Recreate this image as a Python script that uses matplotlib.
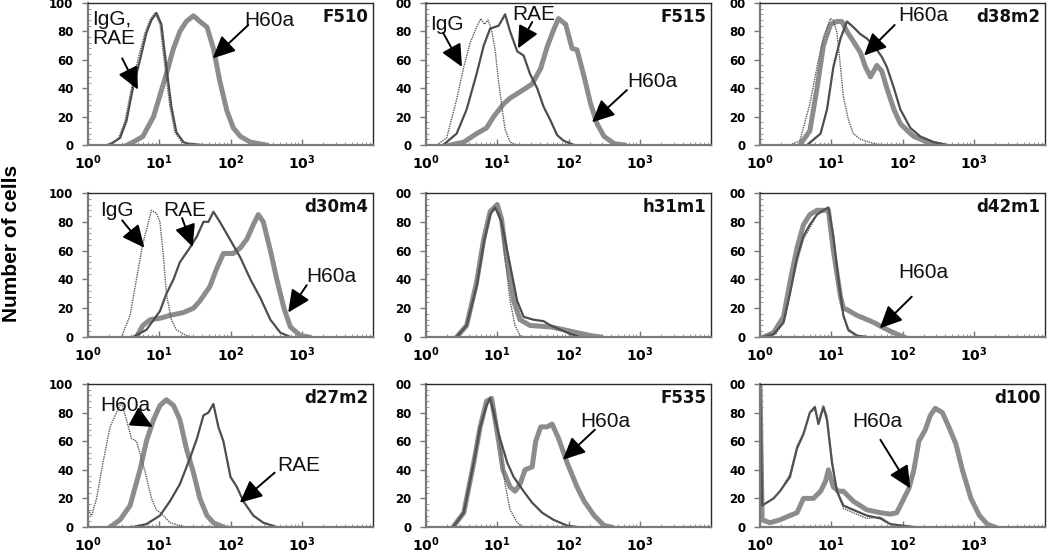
import matplotlib
matplotlib.use("Agg")
import matplotlib.pyplot as plt
from matplotlib.ticker import MultipleLocator, LogLocator, FixedLocator, NullFormatter

# ---------------- data (log10 fluorescence, % of max cells) ----------------
f510_igg = [(0.25,0),(0.35,2),(0.43,5),(0.52,17),(0.61,40),(0.70,60),(0.80,79),(0.87,88),(0.94,93),(1.01,85),(1.08,55),(1.15,27),(1.22,9),(1.32,2),(1.55,0)]
f510_rae = [(0.30,0),(0.45,5),(0.54,17),(0.63,40),(0.73,60),(0.82,79),(0.89,88),(0.96,93),(1.03,85),(1.10,55),(1.17,27),(1.24,9),(1.34,2),(1.40,1),(1.60,0)]
f510_h60a = [(0.55,0),(0.63,2),(0.77,6),(0.92,20),(1.01,35),(1.10,50),(1.20,68),(1.29,80),(1.38,87),(1.48,91),(1.57,87),(1.67,83),(1.76,68),(1.85,45),(1.95,24),(2.04,12),(2.14,6),(2.28,2),(2.50,0)]

f515_igg = [(0.15,0),(0.29,5),(0.43,32),(0.53,55),(0.62,72),(0.71,83),(0.77,89),(0.82,85),(0.87,88),(0.92,81),(0.97,67),(1.02,44),(1.07,25),(1.11,11),(1.18,2),(1.28,0)]
f515_rae = [(0.24,0),(0.43,8),(0.57,25),(0.71,50),(0.81,70),(0.90,82),(1.02,84),(1.11,92),(1.18,80),(1.28,66),(1.37,63),(1.46,50),(1.56,40),(1.65,27),(1.75,17),(1.84,7),(1.93,3),(2.08,0)]
f515_h60a = [(0.34,0),(0.53,2),(0.71,8),(0.85,12),(0.95,20),(1.09,29),(1.18,33),(1.37,39),(1.49,43),(1.61,54),(1.70,69),(1.79,81),(1.86,89),(1.96,85),(2.05,68),(2.12,67),(2.22,48),(2.31,29),(2.40,15),(2.50,6),(2.64,1),(2.78,0)]

d38m2_igg = [(0.42,0),(0.56,3),(0.70,29),(0.80,55),(0.89,76),(0.99,89),(1.03,88),(1.08,79),(1.13,55),(1.17,34),(1.24,18),(1.31,8),(1.41,4),(1.60,1),(1.74,0)]
d38m2_rae = [(0.66,0),(0.85,8),(0.94,25),(1.03,55),(1.13,75),(1.22,87),(1.31,83),(1.41,78),(1.50,75),(1.60,70),(1.71,62),(1.78,55),(1.88,40),(1.97,25),(2.11,12),(2.25,6),(2.44,2),(2.63,0)]
d38m2_h60a = [(0.56,0),(0.70,10),(0.80,40),(0.89,70),(0.99,85),(1.08,87),(1.15,87),(1.22,80),(1.31,73),(1.41,65),(1.48,55),(1.55,48),(1.64,56),(1.71,52),(1.78,40),(1.88,25),(1.97,15),(2.07,10),(2.16,6),(2.35,2),(2.54,0)]

d30m4_igg = [(0.47,0),(0.59,15),(0.68,40),(0.77,65),(0.85,80),(0.89,88),(0.96,86),(1.01,80),(1.06,55),(1.10,30),(1.17,12),(1.24,5),(1.38,1),(1.48,0)]
d30m4_rae = [(0.63,0),(0.82,5),(1.01,18),(1.10,30),(1.20,40),(1.29,52),(1.43,62),(1.53,70),(1.62,80),(1.69,80),(1.76,87),(1.85,80),(1.99,68),(2.14,55),(2.28,40),(2.42,27),(2.56,12),(2.70,3),(2.84,0)]
d30m4_h60a = [(0.68,0),(0.77,8),(0.87,12),(1.01,13),(1.15,15),(1.34,17),(1.48,20),(1.57,25),(1.71,35),(1.81,48),(1.90,58),(2.04,58),(2.14,62),(2.23,68),(2.32,78),(2.39,85),(2.46,80),(2.56,60),(2.65,40),(2.75,20),(2.84,7),(2.98,1),(3.10,0)]

h31m1_igg = [(0.43,0),(0.57,8),(0.71,35),(0.81,65),(0.90,85),(0.97,90),(1.04,85),(1.11,55),(1.18,25),(1.25,8),(1.32,1),(1.39,0)]
h31m1_rae = [(0.43,0),(0.57,8),(0.71,35),(0.81,65),(0.90,85),(0.97,90),(1.06,80),(1.18,50),(1.28,25),(1.37,14),(1.51,12),(1.65,11),(1.75,8),(1.89,5),(2.03,2),(2.17,0)]
h31m1_h60a = [(0.43,0),(0.57,8),(0.71,38),(0.81,68),(0.90,87),(1.00,92),(1.06,82),(1.13,55),(1.23,25),(1.32,12),(1.46,8),(1.75,7),(1.94,5),(2.12,3),(2.31,1),(2.45,0)]

d42m1_igg = [(0.10,0),(0.22,2),(0.33,10),(0.42,30),(0.52,52),(0.61,68),(0.70,76),(0.80,85),(0.89,88),(0.96,90),(1.03,68),(1.10,38),(1.17,14),(1.24,4),(1.36,1),(1.50,0)]
d42m1_rae = [(0.05,0),(0.19,2),(0.33,10),(0.42,30),(0.52,55),(0.61,70),(0.70,78),(0.80,85),(0.89,88),(0.96,90),(1.03,70),(1.10,40),(1.17,15),(1.24,5),(1.36,1),(1.50,0)]
d42m1_h60a = [(0.05,0),(0.19,3),(0.33,14),(0.42,38),(0.52,62),(0.61,78),(0.70,85),(0.80,88),(0.89,88),(0.96,88),(1.03,60),(1.13,28),(1.17,20),(1.22,19),(1.36,15),(1.46,13),(1.60,10),(1.71,7),(1.83,4),(1.97,1),(2.02,0)]

d27m2_igg = [(0.00,12),(0.05,8),(0.12,20),(0.21,45),(0.31,70),(0.40,80),(0.47,87),(0.54,75),(0.61,62),(0.68,60),(0.75,48),(0.82,35),(0.89,20),(0.96,12),(1.06,8),(1.15,3),(1.29,1),(1.38,0)]
d27m2_rae = [(0.63,0),(0.82,2),(1.01,8),(1.15,18),(1.29,30),(1.43,48),(1.53,62),(1.62,78),(1.69,80),(1.76,86),(1.83,70),(1.90,60),(2.00,35),(2.09,28),(2.18,18),(2.32,8),(2.46,3),(2.65,0)]
d27m2_h60a = [(0.31,0),(0.45,5),(0.59,15),(0.73,40),(0.82,60),(0.92,75),(1.01,85),(1.10,89),(1.20,85),(1.29,75),(1.38,55),(1.48,38),(1.57,20),(1.67,8),(1.76,3),(1.90,0)]

f535_igg = [(0.38,0),(0.53,10),(0.67,45),(0.76,70),(0.85,85),(0.90,90),(0.97,80),(1.04,55),(1.11,30),(1.18,12),(1.28,3),(1.37,0)]
f535_rae = [(0.38,0),(0.53,10),(0.67,45),(0.76,70),(0.85,85),(0.90,90),(1.02,65),(1.14,45),(1.23,35),(1.37,25),(1.49,17),(1.63,10),(1.79,5),(1.98,1),(2.12,0)]
f535_h60a = [(0.38,0),(0.53,10),(0.67,45),(0.76,70),(0.85,88),(0.92,90),(1.02,60),(1.08,40),(1.18,28),(1.25,25),(1.32,30),(1.39,40),(1.49,42),(1.54,60),(1.61,70),(1.70,70),(1.77,72),(1.86,62),(1.98,45),(2.12,28),(2.22,18),(2.36,8),(2.50,1),(2.60,0)]

d100_igg = [(0.00,100),(0.03,15),(0.19,20),(0.28,25),(0.42,37),(0.52,57),(0.61,66),(0.70,80),(0.77,82),(0.82,74),(0.89,85),(0.94,78),(1.01,48),(1.08,25),(1.17,13),(1.31,10),(1.50,6),(1.69,7),(1.83,2),(2.16,0)]
d100_rae = [(0.00,100),(0.03,15),(0.19,20),(0.28,25),(0.42,35),(0.52,55),(0.61,65),(0.70,80),(0.77,84),(0.82,72),(0.89,84),(0.94,75),(1.01,45),(1.08,25),(1.17,15),(1.31,12),(1.50,8),(1.69,6),(1.83,2),(2.16,0)]
d100_h60a = [(0.00,100),(0.03,5),(0.14,3),(0.28,5),(0.42,8),(0.52,10),(0.61,20),(0.75,20),(0.85,25),(0.92,32),(0.96,40),(1.03,28),(1.10,25),(1.17,25),(1.31,18),(1.50,12),(1.69,10),(1.83,9),(1.92,10),(2.00,18),(2.09,27),(2.16,40),(2.23,60),(2.32,68),(2.39,78),(2.46,83),(2.56,80),(2.65,70),(2.75,58),(2.84,40),(2.96,20),(3.08,8),(3.19,2),(3.29,0)]

panel_names = ["F510", "F515", "d38m2", "d30m4", "h31m1", "d42m1", "d27m2", "F535", "d100"]
panel_curves = [
    (f510_igg, f510_rae, f510_h60a), (f515_igg, f515_rae, f515_h60a), (d38m2_igg, d38m2_rae, d38m2_h60a),
    (d30m4_igg, d30m4_rae, d30m4_h60a), (h31m1_igg, h31m1_rae, h31m1_h60a), (d42m1_igg, d42m1_rae, d42m1_h60a),
    (d27m2_igg, d27m2_rae, d27m2_h60a), (f535_igg, f535_rae, f535_h60a), (d100_igg, d100_rae, d100_h60a),
]
y_ticks = [0, 20, 40, 60, 80, 100]
y_labels_first = ["0", "20", "40", "60", "80", "100"]
y_labels_other = ["0", "20", "40", "60", "80", "00"]
x_decades = [0, 1, 2, 3]

# annotations: text, text anchor (log x, y), arrow tail, arrow tip
annotations = {
    "F510": [("IgG,\nRAE", (0.06, 95), (0.48, 61), (0.70, 39)),
             ("H60a", (2.20, 88), (2.25, 84.5), (1.75, 61))],
    "F515": [("IgG", (0.06, 85), (0.24, 79), (0.505, 55)),
             ("RAE", (1.21, 92), (1.49, 86.6), (1.29, 68)),
             ("H60a", (2.82, 45), (2.82, 38.7), (2.33, 16))],
    "d38m2": [("H60a", (1.94, 91), (1.89, 84.5), (1.46, 63))],
    "d30m4": [("IgG", (0.17, 87.5), (0.48, 81), (0.79, 62)),
              ("RAE", (1.05, 88), (1.32, 82.6), (1.47, 62.5)),
              ("H60a", (3.07, 42), (3.07, 36), (2.81, 17))],
    "d42m1": [("H60a", (1.94, 44.5), (2.13, 28), (1.68, 6))],
    "d27m2": [("H60a", (0.17, 85), (0.69, 76), (0.91, 70)),
              ("RAE", (2.65, 43), (2.62, 38), (2.13, 17))],
    "F535": [("H60a", (2.16, 74), (2.37, 68), (1.92, 47))],
    "d100": [("H60a", (1.29, 74), (1.69, 61), (2.11, 27))],
}

# ---------------- layout ----------------
W, H = 1050, 552
col_left = [88, 426, 760]
col_width = 285
row_top = [3, 193, 384]
row_bottom = [145, 337, 527]

fig = plt.figure(figsize=(W / 100, H / 100), dpi=100)

C_H60 = "#8c8c8c"
C_RAE = "#4d4d4d"
C_IGG = "#5a5a5a"

for i, name in enumerate(panel_names):
    r, c = divmod(i, 3)
    l = col_left[c] / W
    b = (H - row_bottom[r]) / H
    h = (row_bottom[r] - row_top[r]) / H
    ax = fig.add_axes([l, b, col_width / W, h])
    igg, rae, h60 = panel_curves[i]
    for data, col, lw, ls in ((h60, C_H60, 3.6, "-"), (rae, C_RAE, 1.6, "-"), (igg, C_IGG, 1.0, (0, (1, 0.7)))):
        xs = [10 ** p[0] for p in data]
        ys = [p[1] for p in data]
        ax.plot(xs, ys, color=col, lw=lw, ls=ls, solid_joinstyle="round", clip_on=True)
    ax.set_xscale("log")
    ax.set_xlim(1, 1e4)
    ax.set_ylim(0, 100)
    ax.xaxis.set_major_locator(FixedLocator([10 ** d for d in x_decades]))
    ax.set_xticklabels([r"$\mathbf{10^{%d}}$" % d for d in x_decades])
    ax.xaxis.set_minor_locator(LogLocator(base=10, subs=range(2, 10), numticks=20))
    ax.xaxis.set_minor_formatter(NullFormatter())
    ax.set_yticks(y_ticks)
    ax.set_yticklabels(y_labels_first if c == 0 else y_labels_other)
    ax.yaxis.set_minor_locator(MultipleLocator(4))
    ax.tick_params(axis="y", which="major", direction="out", length=4.5, width=1.0,
                   color="#777777", pad=6, labelsize=8.5)
    ax.tick_params(axis="y", which="minor", direction="in", length=2.5, width=0.6, color="#888888")
    ax.tick_params(axis="x", which="major", direction="in", length=4, width=1.0,
                   color="#777777", pad=6, labelsize=10)
    ax.tick_params(axis="x", which="minor", direction="in", length=2.5, width=0.6, color="#888888")
    for lab in ax.get_yticklabels():
        lab.set_fontweight("bold")
        lab.set_family("DejaVu Sans")
    for sp in ("left", "bottom"):
        ax.spines[sp].set_color("#7a7a7a")
        ax.spines[sp].set_linewidth(1.6)
    for sp in ("top", "right"):
        ax.spines[sp].set_color("#2a2a2a")
        ax.spines[sp].set_linewidth(1.0)

    ax.text(0.985, 0.90, name, transform=ax.transAxes, ha="right", va="center",
            fontsize=12, fontweight="bold", family="DejaVu Sans", color="#111111")

    for txt, tpos, tail, tip in annotations.get(name, []):
        va = "top" if "\n" in txt else "center"
        ax.text(10 ** tpos[0], tpos[1], txt, ha="left", va=va, fontsize=15,
                family="Liberation Sans", color="#111111", linespacing=1.0)
        ax.annotate("", xy=(10 ** tip[0], tip[1]), xytext=(10 ** tail[0], tail[1]),
                    arrowprops=dict(arrowstyle="-|>,head_length=0.85,head_width=0.4",
                                    mutation_scale=16, lw=1.4, color="black",
                                    shrinkA=0, shrinkB=0))

fig.text(12 / W, (H - 243) / H, "Number of cells", rotation=90, ha="center", va="center",
         fontsize=15, fontweight="bold", family="Liberation Sans")

fig.savefig("out.png", dpi=100)
